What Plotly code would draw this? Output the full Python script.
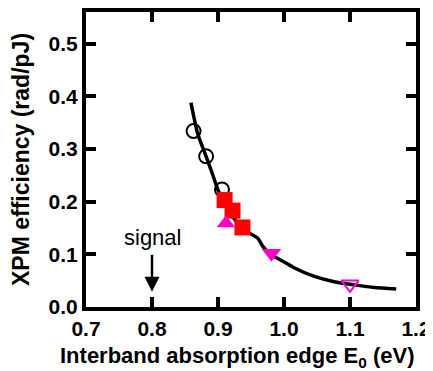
import plotly.graph_objects as go

# Theory curve
curve_x = [0.859, 0.869, 0.882, 0.892, 0.900, 0.910, 0.922, 0.940, 0.960, 0.968, 0.980,
           0.985, 1.008, 1.016, 1.046, 1.076, 1.107, 1.137, 1.170]
curve_y = [0.388, 0.330, 0.286, 0.251, 0.222, 0.197, 0.172, 0.146, 0.131, 0.115, 0.099,
           0.096, 0.080, 0.074, 0.058, 0.048, 0.042, 0.037, 0.034]

# Open circles
circ_x = [0.863, 0.882, 0.906]
circ_y = [0.334, 0.286, 0.223]

# Red squares
sq_x = [0.910, 0.922, 0.937]
sq_y = [0.203, 0.183, 0.151]

# Magenta filled triangle-up
tu_x = [0.912]
tu_y = [0.159]

# Magenta filled triangle-down
td_x = [0.981]
td_y = [0.102]

# Magenta open triangle-down
tdo_x = [1.100]
tdo_y = [0.043]

x_ticks = [0.7, 0.8, 0.9, 1.0, 1.1, 1.2]
x_ticklabels = ["0.7", "0.8", "0.9", "1.0", "1.1", "1.2"]
y_ticks = [0.0, 0.1, 0.2, 0.3, 0.4, 0.5]
y_ticklabels = ["0.0", "0.1", "0.2", "0.3", "0.4", "0.5"]

x_title = "Interband absorption edge E<sub>0</sub> (eV)"
y_title = "XPM efficiency (rad/pJ)"

MAG = "#ff00cc"
RED = "#ff0000"
FONT = "Arial, Liberation Sans"

fig = go.Figure()
fig.add_trace(go.Scatter(x=curve_x, y=curve_y, mode="lines",
                         line=dict(color="black", width=3.5, shape="spline", smoothing=0.6),
                         showlegend=False, hoverinfo="skip"))
fig.add_trace(go.Scatter(x=circ_x, y=circ_y, mode="markers",
                         marker=dict(symbol="circle-open", size=14, color="black",
                                     line=dict(width=2, color="black")),
                         showlegend=False))
fig.add_trace(go.Scatter(x=sq_x, y=sq_y, mode="markers",
                         marker=dict(symbol="square", size=16, color=RED, line=dict(width=0)),
                         showlegend=False))
fig.add_trace(go.Scatter(x=tu_x, y=tu_y, mode="markers",
                         marker=dict(symbol="triangle-up", size=16, color=MAG, line=dict(width=0)),
                         showlegend=False))
fig.add_trace(go.Scatter(x=td_x, y=td_y, mode="markers",
                         marker=dict(symbol="triangle-down", size=17, color=MAG, line=dict(width=0)),
                         showlegend=False))
fig.add_trace(go.Scatter(x=tdo_x, y=tdo_y, mode="markers",
                         marker=dict(symbol="triangle-down-open", size=15, color=MAG,
                                     line=dict(width=2, color=MAG)),
                         showlegend=False))

axis_common = dict(showline=True, linecolor="black", linewidth=4, mirror="ticks",
                   ticks="inside", ticklen=10, tickwidth=4, tickcolor="black",
                   showgrid=False, zeroline=False, automargin=False,
                   tickfont=dict(family=FONT, size=21, color="black"))

fig.update_xaxes(range=[0.7, 1.2], tickvals=x_ticks,
                 ticktext=["<b>%s</b>" % t for t in x_ticklabels],
                 **axis_common)
fig.update_yaxes(range=[0, 0.56], tickvals=y_ticks,
                 ticktext=["<b>%s</b>" % t for t in y_ticklabels],
                 title=dict(text="<b>%s</b>" % y_title,
                            font=dict(family=FONT, size=23, color="black")),
                 **axis_common)

# x-axis title (slightly left of the plot centre, as in the original)
fig.add_annotation(x=0.4576, y=-0.1695, xref="paper", yref="paper",
                   text="<b>%s</b>" % x_title, showarrow=False,
                   xanchor="center", yanchor="middle",
                   font=dict(family=FONT, size=22, color="black"))

fig.add_annotation(x=0.8, y=0.029, xref="x", yref="y", text="signal", showarrow=True,
                   ax=0, ay=-54, startstandoff=3, arrowhead=2, arrowsize=1.2,
                   arrowwidth=2.5, arrowcolor="black",
                   font=dict(family=FONT, size=22, color="black"))

# page body has an 8px margin; size the figure so it fits the 433x371 window exactly
fig.update_layout(width=425, height=363, margin=dict(l=78, r=17, t=4, b=64),
                  plot_bgcolor="white", paper_bgcolor="white",
                  font=dict(family=FONT, color="black"))

fig.write_html("out.html")
